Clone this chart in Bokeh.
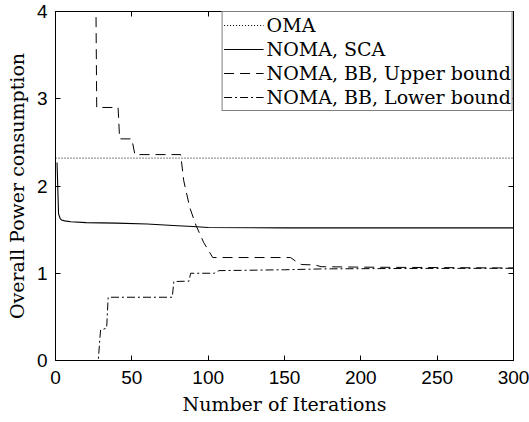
from bokeh.plotting import figure
from bokeh.models import Range1d, LinearAxis, FixedTicker
from bokeh.embed import file_html
from bokeh.resources import INLINE

# ---- data ----
x_ticks = [0, 50, 100, 150, 200, 250, 300]
y_ticks = [0, 1, 2, 3, 4]

oma_iter = [0, 300]
oma_power = [2.32, 2.32]

sca_iter = [1, 2, 3, 4, 6, 10, 20, 40, 60, 80, 90, 100, 150, 300]
sca_power = [2.27, 1.68, 1.63, 1.61, 1.60, 1.59, 1.58, 1.575, 1.565, 1.545, 1.535, 1.525, 1.52, 1.52]

ub_iter = [1, 25, 27, 41, 42, 50, 52, 82, 84, 88, 92, 97, 103, 154, 158, 161, 170, 174, 200, 250, 300]
ub_power = [8.0, 7.5, 2.90, 2.90, 2.54, 2.54, 2.36, 2.36, 2.06, 1.75, 1.55, 1.355, 1.18, 1.18, 1.13, 1.10, 1.095, 1.075, 1.07, 1.065, 1.06]

lb_iter = [1, 28, 29.5, 33.5, 34.5, 76.5, 77.5, 87.5, 88.5, 104, 107, 150, 175, 230, 300]
lb_power = [0.0, 0.0, 0.35, 0.37, 0.725, 0.725, 0.905, 0.91, 1.0, 1.0, 1.03, 1.04, 1.05, 1.055, 1.057]

SERIF = "DejaVu Serif"
SANS = "Liberation Sans"

p = figure(width=529, height=422, output_backend="svg", toolbar_location=None,
           x_range=Range1d(0, 300), y_range=Range1d(0, 4),
           min_border_left=55, min_border_right=16, min_border_top=11, min_border_bottom=62)
p.grid.visible = False
p.outline_line_color = "black"
p.background_fill_color = "white"
p.border_fill_color = "white"

p.line(oma_iter, oma_power, line_color="black", line_width=1, line_dash="1 2", legend_label="OMA")
p.line(sca_iter, sca_power, line_color="black", line_width=1.1, legend_label="NOMA, SCA")
p.line(ub_iter, ub_power, line_color="black", line_width=1, line_dash="10 6",
       legend_label="NOMA, BB, Upper bound")
p.line(lb_iter, lb_power, line_color="black", line_width=1, line_dash="8 3 2 3",
       legend_label="NOMA, BB, Lower bound")

def style_axis(ax, ticks):
    ax.ticker = FixedTicker(ticks=ticks)
    ax.major_tick_in = 5
    ax.major_tick_out = 0
    ax.minor_tick_line_color = None
    ax.axis_line_color = "black"
    ax.major_tick_line_color = "black"

xa = p.xaxis[0]
style_axis(xa, x_ticks)
xa.major_label_text_font = SANS
xa.major_label_text_font_size = "19px"
xa.major_label_text_color = "black"
xa.major_label_standoff = 10
xa.axis_label = "Number of Iterations"
xa.axis_label_text_font = SERIF
xa.axis_label_text_font_style = "normal"
xa.axis_label_text_font_size = "19px"
xa.axis_label_text_color = "black"
xa.axis_label_standoff = 6

ya = p.yaxis[0]
style_axis(ya, y_ticks)
ya.major_label_text_font = SANS
ya.major_label_text_font_size = "19px"
ya.major_label_text_color = "black"
ya.major_label_standoff = 8
ya.axis_label = "Overall Power consumption"
ya.axis_label_text_font = SERIF
ya.axis_label_text_font_style = "normal"
ya.axis_label_text_font_size = "19px"
ya.axis_label_text_color = "black"
ya.axis_label_standoff = 6

# box ticks on top and right, without labels
top_ax = LinearAxis(major_label_text_font_size="1px", major_label_standoff=0,
                    major_label_text_color=None)
style_axis(top_ax, x_ticks)
p.add_layout(top_ax, "above")
right_ax = LinearAxis(major_label_text_font_size="1px", major_label_standoff=0,
                      major_label_text_color=None)
style_axis(right_ax, y_ticks)
p.add_layout(right_ax, "right")

lg = p.legend[0]
lg.location = "top_right"
lg.margin = 0
lg.padding = 1
lg.spacing = 0
lg.glyph_width = 40
lg.glyph_height = 24
lg.label_height = 24
lg.label_standoff = 3
lg.label_text_font = SERIF
lg.label_text_font_size = "19px"
lg.label_text_color = "black"
lg.border_line_color = "black"
lg.border_line_width = 1
lg.background_fill_alpha = 1

open("out.html", "w").write(file_html(p, INLINE))
